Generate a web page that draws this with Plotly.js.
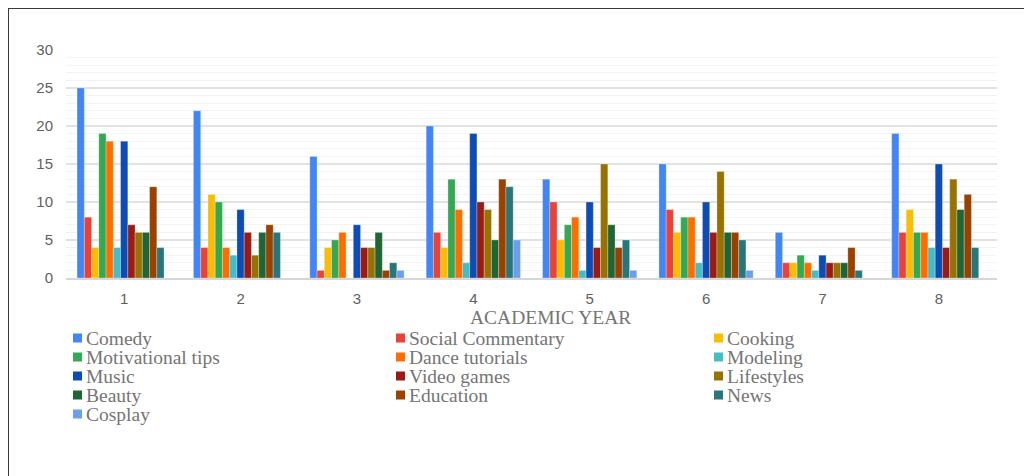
<!DOCTYPE html>
<html>
<head>
<meta charset="utf-8">
<script src="https://cdn.plot.ly/plotly-3.0.1.min.js"></script>
<style>
  html, body { margin: 0; padding: 0; background: #ffffff; overflow: hidden; }
  #chart { position: absolute; left: 0; top: 0; width: 1024px; height: 476px; }
  #frame { position: absolute; left: 8px; top: 8px; width: 1100px; height: 600px;
           border-left: 1.5px solid #3a3a3a; border-top: 1.5px solid #3a3a3a; pointer-events: none; }
</style>
</head>
<body>
<div id="chart"></div>
<div id="frame"></div>
<script>
// Categories (academic years)
const years = ['1', '2', '3', '4', '5', '6', '7', '8'];

// Series values per year
const comedy            = [25, 22, 16, 20, 13, 15, 6, 19];
const socialCommentary  = [8, 4, 1, 6, 10, 9, 2, 6];
const cooking           = [4, 11, 4, 4, 5, 6, 2, 9];
const motivationalTips  = [19, 10, 5, 13, 7, 8, 3, 6];
const danceTutorials    = [18, 4, 6, 9, 8, 8, 2, 6];
const modeling          = [4, 3, 0, 2, 1, 2, 1, 4];
const music             = [18, 9, 7, 19, 10, 10, 3, 15];
const videoGames        = [7, 6, 4, 10, 4, 6, 2, 4];
const lifestyles        = [6, 3, 4, 9, 15, 14, 2, 13];
const beauty            = [6, 6, 6, 5, 7, 6, 2, 9];
const education         = [12, 7, 1, 13, 4, 6, 4, 11];
const news              = [4, 6, 2, 12, 5, 5, 1, 4];
const cosplay           = [0, 0, 1, 5, 1, 1, 0, 0];

// Series names and colours
const seriesNames  = ['Comedy', 'Social Commentary', 'Cooking', 'Motivational tips', 'Dance tutorials',
                      'Modeling', 'Music', 'Video games', 'Lifestyles', 'Beauty', 'Education', 'News', 'Cosplay'];
const seriesValues = [comedy, socialCommentary, cooking, motivationalTips, danceTutorials,
                      modeling, music, videoGames, lifestyles, beauty, education, news, cosplay];
const seriesColors = ['#4285F4', '#EA4335', '#FBBC04', '#34A853', '#FF6D01', '#46BDC6',
                      '#0D4BB5', '#9A1B14', '#977200', '#1F6535', '#9A4100', '#27767B', '#6D9EEB'];

const xTitle = 'ACADEMIC YEAR';

const traces = seriesNames.map((name, i) => ({
  type: 'bar',
  name: name,
  x: years,
  y: seriesValues[i],
  marker: { color: seriesColors[i], line: { color: 'rgba(255,255,255,0.35)', width: 0.8 } },
  showlegend: false,
  hoverinfo: 'skip'
}));

// Custom three-column legend (row-major order, like the reference)
const legendColX   = [73, 396, 714];   // pixel x of squares
const legendRowY0  = 338;              // pixel y of first row centre
const legendRowDy  = 19;
const W = 1024, H = 476;
const M = { l: 66, r: 27, t: 50, b: 198 };
const pw = W - M.l - M.r, ph = H - M.t - M.b;
const px2paperX = px => (px - M.l) / pw;
const px2paperY = py => (H - M.b - py) / ph;

const shapes = [];
const annotations = [];
seriesNames.forEach((name, i) => {
  const col = i % 3, row = Math.floor(i / 3);
  const cx = legendColX[col], cy = legendRowY0 + row * legendRowDy;
  shapes.push({
    type: 'rect', xref: 'paper', yref: 'paper',
    x0: px2paperX(cx), x1: px2paperX(cx + 9),
    y0: px2paperY(cy + 4.5), y1: px2paperY(cy - 4.5),
    fillcolor: seriesColors[i], line: { width: 0 }
  });
  annotations.push({
    xref: 'paper', yref: 'paper', x: px2paperX(cx + 11), y: px2paperY(cy),
    xanchor: 'left', yanchor: 'middle', showarrow: false,
    text: name, font: { family: 'Liberation Serif, Times New Roman, serif', size: 19.5, color: '#757575' }
  });
});
annotations.push({
  xref: 'paper', yref: 'paper', x: px2paperX(550), y: px2paperY(317),
  xanchor: 'center', yanchor: 'middle', showarrow: false,
  text: xTitle, font: { family: 'Liberation Serif, Times New Roman, serif', size: 19.5, color: '#757575' }
});

const layout = {
  width: W, height: H,
  margin: M,
  paper_bgcolor: '#ffffff', plot_bgcolor: '#ffffff',
  barmode: 'group', bargap: 0.19, bargroupgap: 0,
  showlegend: false,
  font: { family: 'Liberation Sans, Arial, sans-serif', size: 15, color: '#5f5f5f' },
  xaxis: {
    type: 'category', showgrid: false, zeroline: false,
    showline: true, linecolor: '#d6d6d6', linewidth: 1.5,
    ticks: '', ticklabelstandoff: 6,
    tickfont: { family: 'Liberation Sans, Arial, sans-serif', size: 15, color: '#5f5f5f' }
  },
  yaxis: {
    range: [0, 30], dtick: 5, tick0: 0,
    showgrid: true, gridcolor: '#e2e2e2', gridwidth: 1.2,
    zeroline: false, showline: false, ticks: '',
    ticklabelstandoff: 12,
    minor: { dtick: 1, showgrid: true, gridcolor: '#f3f3f3', gridwidth: 1 },
    tickfont: { family: 'Liberation Sans, Arial, sans-serif', size: 15, color: '#5f5f5f' }
  },
  shapes: shapes,
  annotations: annotations
};

Plotly.newPlot('chart', traces, layout, { displayModeBar: false, staticPlot: true });
</script>
</body>
</html>
